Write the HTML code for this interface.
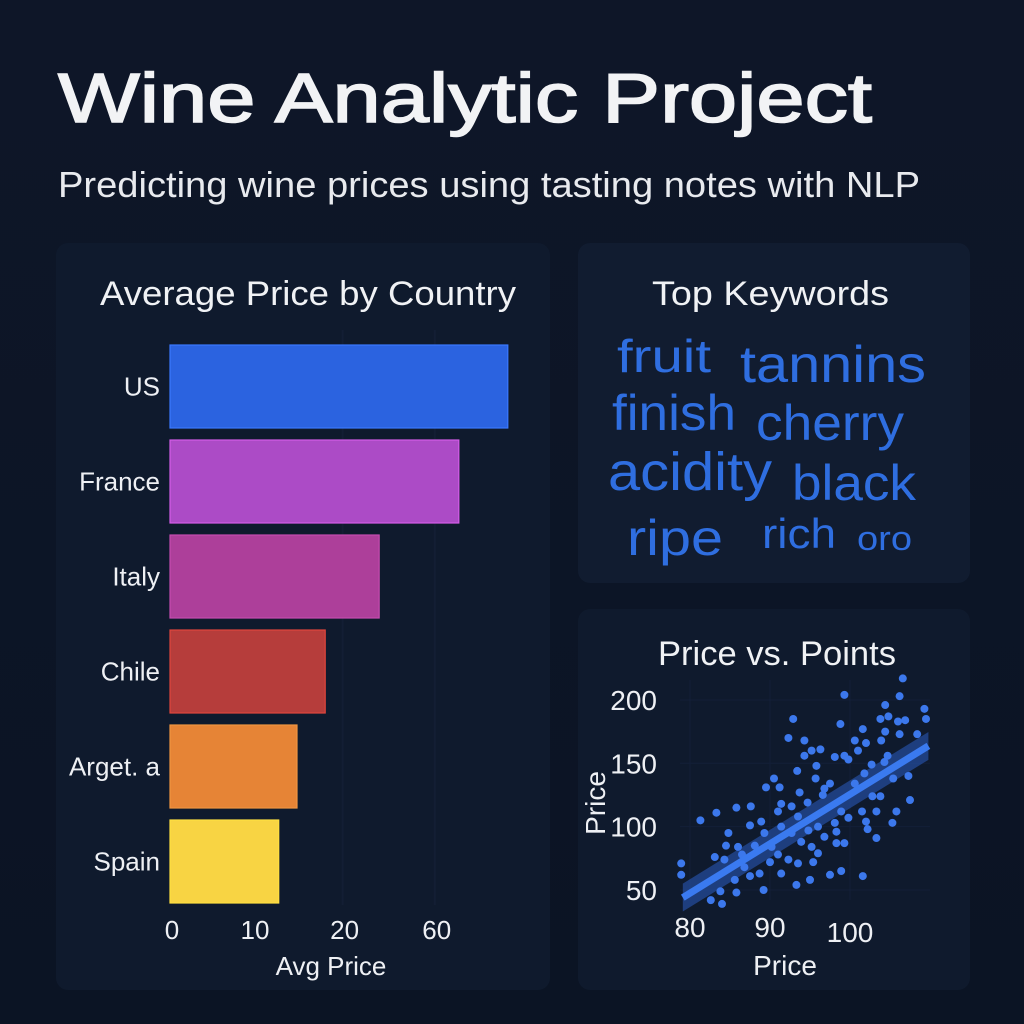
<!DOCTYPE html>
<html><head><meta charset="utf-8">
<style>
html,body{margin:0;padding:0;background:#0c1526;}
svg{display:block;font-family:"Liberation Sans","DejaVu Sans",sans-serif;}
</style></head>
<body>
<svg id="root" width="1024" height="1024" viewBox="0 0 1024 1024" xmlns="http://www.w3.org/2000/svg">
<defs>
<linearGradient id="bg" x1="0" y1="0" x2="0" y2="1"><stop offset="0" stop-color="#0e1628"/><stop offset="1" stop-color="#0b1424"/></linearGradient>
</defs>
<rect width="1024" height="1024" fill="url(#bg)"/>
<text x="58" y="122" font-size="70" fill="#f2f3f5" stroke="#f2f3f5" stroke-width="1.6" textLength="814" lengthAdjust="spacingAndGlyphs">Wine Analytic Project</text>
<text x="58" y="197" font-size="36" fill="#e8eaee" textLength="862" lengthAdjust="spacingAndGlyphs">Predicting wine prices using tasting notes with NLP</text>

<rect x="56" y="243" width="494" height="747" rx="12" fill="#0f1a2d"/>
<rect x="578" y="243" width="392" height="340" rx="12" fill="#111c30"/>
<rect x="578" y="609" width="392" height="381" rx="12" fill="#0f1a2d"/>

<text x="100" y="305" font-size="34" fill="#f0f2f5" textLength="416" lengthAdjust="spacingAndGlyphs">Average Price by Country</text>
<text x="652" y="305" font-size="34" fill="#f0f2f5" textLength="237" lengthAdjust="spacingAndGlyphs">Top Keywords</text>
<text x="658" y="665" font-size="34" fill="#f0f2f5" textLength="238" lengthAdjust="spacingAndGlyphs">Price vs. Points</text>

<g id="bars"></g>
<g id="words"></g>
<g id="scatter"></g>
</svg>
<script>
const countries = ["US","France","Italy","Chile","Arget. a","Spain"];
const avgPrice = [40.7, 34.8, 25.2, 18.7, 15.3, 13.1];
const barColors = ["#2b63e0","#ac4bc6","#ad3f9a","#b63d3b","#e68436","#f8d443"];
const barStroke = ["#3a78ff","#d45ce8","#c64cb0","#e0463c","#f09540","#ffe040"];
const xTickValues = [0, 10, 20.8, 31.9];
const xTickLabels = ["0","10","20","60"];

const keywords = ["fruit","tannins","finish","cherry","acidity","black","ripe","rich","oro"];

const ptX = [78.9,78.9,81.3,83.3,83.1,83.8,84,82.6,85.8,84.8,85.8,87.6,87.5,84.5,85.6,89.2,88.9,89.5,90.5,91.2,92.3,92.9,94.3,94.3,93.4,95.2,96.3,95.8,95.7,93.7,92.7,91.4,91,94.7,96.6,97.5,98.1,98.8,99.3,99.3,99.8,100.6,101,101.6,102,102.7,101.8,100.6,98.9,98.1,98.3,99.3,98.9,97.5,95,93.3,101.6,101.5,102,102.2,103.3,103.3,102.8,103.8,104.3,104.7,103.9,104.4,103.8,104.8,104.4,106.2,106.6,106,106.2,106.9,108.4,109.3,109.5,107.3,107.5,105.8,105.3,105.4,96.8,96,95.4,93.5,92.3,91.4,90,88.7,87.5,86.8,86.5,88.1,89.3,90.2,91.4,92.7,93.5,94.8,96,96.8,95.2,93.9,91,86,84.3,99.8,98.3];
const ptY = [71,62,105,111,76,49,39,42,48,95,115,116,101,85,58,50,104,131,138,131,170,185,168,156,144,160,161,148,138,127,116,118,112,119,125,134,155,181,204,156,153,168,160,177,166,149,142,134,112,103,87,87,65,62,58,54,61,112,104,98,91,112,124,124,151,156,168,175,185,187,196,203,217,183,173,184,173,193,185,140,121,112,103,138,130,79,72,71,74,63,72,63,61,68,78,85,95,84,100,95,108,97,100,92,84,88,78,84,74,107,96];
const fitRange = [79.1, 109.8];
const fitIntercept = 44;
const fitSlope = 3.9;
const fitBand = 11;
const sxTicks = [80, 90, 100];
const syTicks = [50, 100, 150, 200];

const NS = "http://www.w3.org/2000/svg";
function mk(tag, attrs, parent){const e=document.createElementNS(NS,tag);for(const k in attrs)e.setAttribute(k,attrs[k]);parent.appendChild(e);return e;}

// Bar chart
const bars = document.getElementById("bars");
const bx = v => 170 + v * 8.3;
const by = i => 345 + i * 95;
const bh = 83;
xTickValues.forEach((v,i)=>{
  if(i>1){const g=mk("line",{x1:bx(v),x2:bx(v),y1:330,y2:905,stroke:"#131e34","stroke-width":2},bars);
  
  }
});
countries.forEach((c,i)=>{
  const r=mk("rect",{x:bx(0),y:by(i),width:bx(avgPrice[i])-bx(0),height:bh,fill:barColors[i],stroke:barStroke[i],"stroke-width":1.2},bars);
  
  
  const t=mk("text",{x:160,y:by(i)+bh/2+9,"font-size":26,fill:"#eef0f4","text-anchor":"end"},bars);
  t.textContent=c;
  
  
});
xTickValues.forEach((v,i)=>{
  const t=mk("text",{x:bx(v)+2,y:939,"font-size":26,fill:"#eef0f4","text-anchor":"middle"},bars);
  t.textContent=xTickLabels[i];
  
  
});
const bxl=mk("text",{x:331,y:975,"font-size":26,fill:"#eef0f4","text-anchor":"middle"},bars);
bxl.textContent="Avg Price";



// Word cloud
const words=document.getElementById("words");
const wx=[617,740,612,756,608,792,627,762,857];
const wy=[372,382,430,440,490,500,555,548,550];
const ws=[46,52,50,50,54,50,50,42,34];
const ww=[94,186,124,148,164,124,96,74,55];
keywords.forEach((k,i)=>{
  const t=mk("text",{x:wx[i],y:wy[i],"font-size":ws[i],fill:"#2f6ee0",textLength:ww[i],lengthAdjust:"spacingAndGlyphs"},words);
  t.textContent=k;
  
  
});

// Scatter
const sc=document.getElementById("scatter");
const sx=v=>690+(v-80)*8;
const sy=v=>890-(v-50)*1.267;
syTicks.forEach(v=>{
  const g=mk("line",{x1:680,x2:930,y1:sy(v),y2:sy(v),stroke:"#131f38","stroke-width":1},sc);
  
  
  const t=mk("text",{x:657,y:sy(v)+10,"font-size":28,fill:"#eef0f4","text-anchor":"end"},sc);
  t.textContent=v;
  
  
});
sxTicks.forEach((v,i)=>{
  const g=mk("line",{x1:sx(v),x2:sx(v),y1:680,y2:900,stroke:"#131f38","stroke-width":1},sc);
  
  
  const t=mk("text",{x:sx(v),y:937+(i==2?5:0),"font-size":28,fill:"#eef0f4","text-anchor":"middle"},sc);
  t.textContent=v;
  
  
});
const fy=x=>fitIntercept+(x-fitRange[0])*fitSlope;
const x0=fitRange[0],x1=fitRange[1];
const band=mk("polygon",{points:`${sx(x0)},${sy(fy(x0)+fitBand)} ${sx(x1)},${sy(fy(x1)+fitBand)} ${sx(x1)},${sy(fy(x1)-fitBand)} ${sx(x0)},${sy(fy(x0)-fitBand)}`,fill:"#2856b4","fill-opacity":0.6},sc);


ptX.forEach((x,i)=>{
  const c=mk("circle",{cx:sx(x),cy:sy(ptY[i]),r:4,fill:"#3c78ec"},sc);
  
  
});
const fl=mk("line",{x1:sx(x0),y1:sy(fy(x0)),x2:sx(x1),y2:sy(fy(x1)),stroke:"#3a7af0","stroke-width":7},sc);


const sxl=mk("text",{x:785,y:975,"font-size":28,fill:"#eef0f4","text-anchor":"middle"},sc);
sxl.textContent="Price";


const syl=mk("text",{x:0,y:0,"font-size":28,fill:"#eef0f4","text-anchor":"middle",transform:"translate(605,803) rotate(-90)"},sc);
syl.textContent="Price";


</script>
</body></html>
